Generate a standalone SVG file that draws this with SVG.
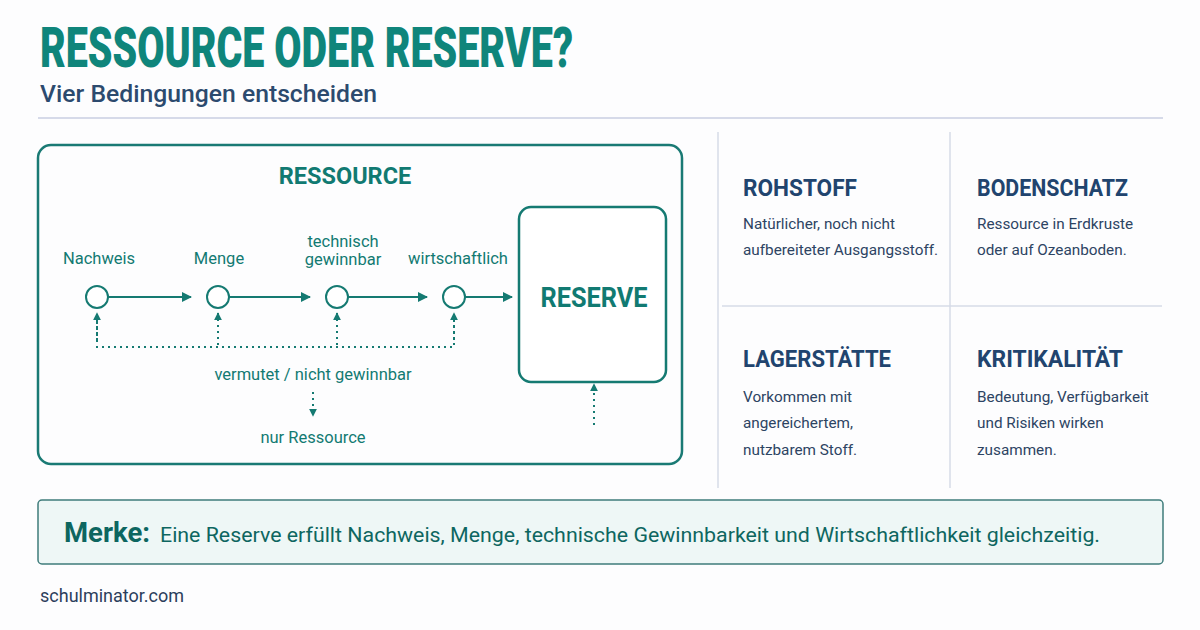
<svg xmlns="http://www.w3.org/2000/svg" width="1200" height="630" viewBox="0 0 1200 630">
<defs>
<style>
.t{font-family:"Roboto","Liberation Sans",sans-serif}
.teal{fill:#117a72}
.lbl{font-size:16.5px;fill:#127a72;text-anchor:middle}
.h{font-size:23px;font-weight:700;fill:#21446e}
.d{font-size:15.3px;fill:#2d4463}
.flow{stroke:#157a72;stroke-width:2;fill:none}
.dot{stroke:#157a72;stroke-width:2;fill:none;stroke-dasharray:2 4}
.grid{stroke:#d6dbe7;stroke-width:1.5}
</style>
<marker id="ah" viewBox="0 0 10 10" refX="9" refY="5" markerWidth="5" markerHeight="5" orient="auto"><path d="M0,0L10,5L0,10z" fill="#157a72"/></marker>
<marker id="ahs" viewBox="0 0 10 10" refX="9" refY="5" markerWidth="4" markerHeight="4" orient="auto"><path d="M0,0L10,5L0,10z" fill="#157a72"/></marker>
</defs>
<rect width="1200" height="630" fill="#fdfdfe"/>
<g id="header">
<text class="t" x="40" y="67" font-size="55" font-weight="900" fill="#0f857b" textLength="533" lengthAdjust="spacingAndGlyphs">RESSOURCE ODER RESERVE?</text>
<text class="t" x="40" y="102" font-size="23.5" font-weight="500" fill="#2c4a6e" textLength="337" lengthAdjust="spacingAndGlyphs">Vier Bedingungen entscheiden</text>
<line x1="38" y1="118" x2="1163" y2="118" stroke="#c9cee2" stroke-width="1.5"/>
</g>
<g id="ressource-box">
<rect x="38" y="145" width="644" height="319" rx="13" fill="none" stroke="#1a7a74" stroke-width="2.5"/>
<text class="t teal" x="345" y="184" font-size="23.5" font-weight="700" text-anchor="middle">RESSOURCE</text>
</g>
<g id="node-nachweis">
<circle cx="97" cy="297" r="11" fill="#fff" stroke="#157a72" stroke-width="2"/>
<text class="t lbl" x="99" y="264">Nachweis</text>
</g>
<g id="node-menge">
<circle cx="218" cy="297" r="11" fill="#fff" stroke="#157a72" stroke-width="2"/>
<text class="t lbl" x="219" y="264">Menge</text>
</g>
<g id="node-technisch">
<circle cx="337" cy="297" r="11" fill="#fff" stroke="#157a72" stroke-width="2"/>
<text class="t lbl" x="343" y="247">technisch</text>
<text class="t lbl" x="343" y="265">gewinnbar</text>
</g>
<g id="node-wirtschaftlich">
<circle cx="454" cy="297" r="11" fill="#fff" stroke="#157a72" stroke-width="2"/>
<text class="t lbl" x="458" y="264" font-size="15">wirtschaftlich</text>
</g>
<g id="node-reserve">
<rect x="519" y="207" width="147" height="175" rx="12" fill="#fff" stroke="#157a72" stroke-width="2.5"/>
<text class="t teal" x="594" y="307" font-size="28" font-weight="700" text-anchor="middle" textLength="107" lengthAdjust="spacingAndGlyphs">RESERVE</text>
</g>
<g id="text-labels">
<text class="t lbl" x="313" y="380">vermutet / nicht gewinnbar</text>
<text class="t lbl" x="313" y="443" font-size="19">nur Ressource</text>
</g>
<g id="connectors">
<line class="flow" x1="108" y1="297" x2="191" y2="297" marker-end="url(#ah)"/>
<line class="flow" x1="229" y1="297" x2="310" y2="297" marker-end="url(#ah)"/>
<line class="flow" x1="348" y1="297" x2="427" y2="297" marker-end="url(#ah)"/>
<line class="flow" x1="465" y1="297" x2="512" y2="297" marker-end="url(#ah)"/>
<polyline class="dot" points="97,322 97,347 454,347 454,322"/>
<line class="dot" x1="97" y1="340" x2="97" y2="313" marker-end="url(#ahs)"/>
<line class="dot" x1="218" y1="345" x2="218" y2="313" marker-end="url(#ahs)"/>
<line class="dot" x1="337" y1="345" x2="337" y2="313" marker-end="url(#ahs)"/>
<line class="dot" x1="454" y1="340" x2="454" y2="313" marker-end="url(#ahs)"/>
<line class="dot" x1="313" y1="392" x2="313" y2="416" marker-end="url(#ahs)"/>
<line class="dot" x1="594" y1="425" x2="594" y2="384" marker-end="url(#ahs)"/>
</g>
<g id="glossary-grid">
<line class="grid" x1="718" y1="132" x2="718" y2="488"/>
<line class="grid" x1="950" y1="132" x2="950" y2="488"/>
<line class="grid" x1="722" y1="306" x2="1162" y2="306"/>
</g>
<g id="card-rohstoff">
<text class="t h" x="743" y="196" textLength="114" lengthAdjust="spacingAndGlyphs">ROHSTOFF</text>
<text class="t d" x="743" y="229">Natürlicher, noch nicht</text>
<text class="t d" x="743" y="255">aufbereiteter Ausgangsstoff.</text>
</g>
<g id="card-bodenschatz">
<text class="t h" x="977" y="196" textLength="151" lengthAdjust="spacingAndGlyphs">BODENSCHATZ</text>
<text class="t d" x="977" y="229">Ressource in Erdkruste</text>
<text class="t d" x="977" y="255">oder auf Ozeanboden.</text>
</g>
<g id="card-lagerstaette">
<text class="t h" x="743" y="367" textLength="148" lengthAdjust="spacingAndGlyphs">LAGERSTÄTTE</text>
<text class="t d" x="743" y="402">Vorkommen mit</text>
<text class="t d" x="743" y="428">angereichertem,</text>
<text class="t d" x="743" y="455">nutzbarem Stoff.</text>
</g>
<g id="card-kritikalitaet">
<text class="t h" x="977" y="367" textLength="146" lengthAdjust="spacingAndGlyphs">KRITIKALITÄT</text>
<text class="t d" x="977" y="402">Bedeutung, Verfügbarkeit</text>
<text class="t d" x="977" y="428">und Risiken wirken</text>
<text class="t d" x="977" y="455">zusammen.</text>
</g>
<g id="merke">
<rect x="38" y="500" width="1125" height="64" rx="4" fill="#eef7f6" stroke="#3f7c7b" stroke-width="1.5"/>
<text class="t" x="64" y="542" font-size="27" font-weight="700" fill="#0d6660" textLength="86" lengthAdjust="spacingAndGlyphs">Merke:</text>
<text class="t" x="160" y="542" font-size="21" fill="#0d6660" textLength="940" lengthAdjust="spacingAndGlyphs">Eine Reserve erfüllt Nachweis, Menge, technische Gewinnbarkeit und Wirtschaftlichkeit gleichzeitig.</text>
</g>
<g id="footer">
<text class="t" x="40" y="602" font-size="18" fill="#2c3e5c">schulminator.com</text>
</g>
</svg>
